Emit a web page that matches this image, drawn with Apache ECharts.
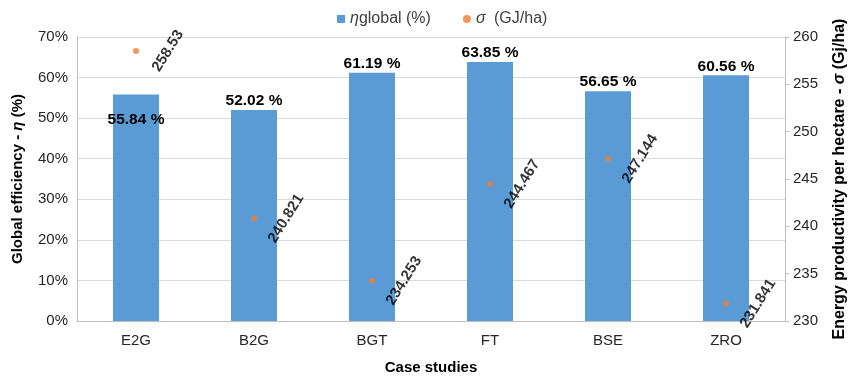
<!DOCTYPE html>
<html>
<head>
<meta charset="utf-8">
<script src="https://cdn.jsdelivr.net/npm/echarts@6/dist/echarts.min.js"></script>
<style>
html,body{margin:0;padding:0;background:#fff;}
#chart{width:851px;height:376px;}
</style>
</head>
<body>
<div id="chart"></div>
<script>
// Case studies and their values
const categories = ['E2G', 'B2G', 'BGT', 'FT', 'BSE', 'ZRO'];
const efficiency = [55.84, 52.02, 61.19, 63.85, 56.65, 60.56];        // global efficiency, %
const productivity = [258.53, 240.821, 234.253, 244.467, 247.144, 231.841]; // GJ/ha
const productivityText = ['258.53', '240.821', '234.253', '244.467', '247.144', '231.841'];

const FONT = '"Liberation Sans", Arial, sans-serif';

const chart = echarts.init(document.getElementById('chart'));

const barData = efficiency.map((v, i) => {
  const item = { value: v };
  if (i === 0) {
    // first value label sits inside the bar, below the scatter label
    item.label = { position: 'insideTop', distance: 17 };
  }
  return item;
});

chart.setOption({
  animation: false,
  legend: {
    top: 6,
    left: 332,
    itemGap: 32,
    itemWidth: 8,
    itemHeight: 8,
    textStyle: {
      fontFamily: FONT, fontSize: 16, color: '#404040',
      rich: {
        i: { fontFamily: FONT, fontSize: 16, fontStyle: 'italic', color: '#404040' },
        s: { fontFamily: FONT, fontSize: 16, fontStyle: 'italic', color: '#404040', padding: [0, 4, 0, 0] }
      }
    },
    formatter: name => name === 'eta' ? '{i|η}global (%)' : '{s|σ} (GJ/ha)',
    data: [
      { name: 'eta', icon: 'rect' },
      { name: 'sigma', icon: 'circle', itemStyle: { color: '#ed7d31' } }
    ]
  },
  grid: { left: 77, right: 66, top: 37, bottom: 55, containLabel: false, outerBoundsMode: 'none' },
  xAxis: {
    type: 'category',
    data: categories,
    name: 'Case studies',
    nameLocation: 'middle',
    nameGap: 39,
    nameTextStyle: { fontFamily: FONT, fontSize: 15, fontWeight: 'bold', color: '#000' },
    axisLine: { lineStyle: { color: '#bfbfbf' } },
    axisTick: { show: false },
    axisLabel: { fontFamily: FONT, fontSize: 15, color: '#262626', margin: 12 }
  },
  yAxis: [
    {
      type: 'value',
      min: 0, max: 70, interval: 10,
      name: 'Global efficiency - {i|η} (%)',
      nameLocation: 'middle',
      nameGap: 52,
      nameTextStyle: {
        fontFamily: FONT, fontSize: 15, fontWeight: 'bold', color: '#000',
        rich: { i: { fontFamily: FONT, fontSize: 15, fontWeight: 'bold', fontStyle: 'italic', color: '#000' } }
      },
      axisLine: { show: true, lineStyle: { color: '#bfbfbf' } },
      axisTick: { show: false },
      axisLabel: { fontFamily: FONT, fontSize: 15, color: '#262626', formatter: '{value}%', margin: 9 },
      splitLine: { lineStyle: { color: '#d9d9d9' } }
    },
    {
      type: 'value',
      min: 230, max: 260, interval: 5,
      position: 'right',
      name: 'Energy productivity per hectare - {i|σ} (Gj/ha)',
      nameLocation: 'middle',
      nameGap: 47,
      nameRotate: 90,
      nameTextStyle: {
        fontFamily: FONT, fontSize: 16, fontWeight: 'bold', color: '#000',
        rich: { i: { fontFamily: FONT, fontSize: 16, fontWeight: 'bold', fontStyle: 'italic', color: '#000' } }
      },
      axisLine: { show: true, lineStyle: { color: '#bfbfbf' } },
      axisTick: { show: true, length: 4, inside: false, lineStyle: { color: '#bfbfbf' } },
      axisLabel: { fontFamily: FONT, fontSize: 15, color: '#262626', margin: 8 },
      splitLine: { show: false }
    }
  ],
  series: [
    {
      name: 'eta',
      type: 'bar',
      yAxisIndex: 0,
      data: barData,
      barWidth: '39%',
      itemStyle: { color: '#5b9bd5' },
      label: {
        show: true,
        position: 'top',
        distance: 1,
        fontFamily: FONT, fontSize: 15.5, fontWeight: 'bold', color: '#000',
        formatter: p => p.value.toFixed(2) + ' %'
      },
      z: 2
    },
    {
      name: 'sigma',
      type: 'scatter',
      yAxisIndex: 1,
      data: productivity,
      symbol: 'circle',
      symbolSize: 6,
      itemStyle: { color: '#ed7d31' },
      label: {
        show: true,
        position: 'right',
        distance: 29,
        align: 'center',
        verticalAlign: 'middle',
        rotate: 58,
        fontFamily: FONT, fontSize: 15, fontWeight: 'bold', color: '#000',
        formatter: p => productivityText[p.dataIndex]
      },
      z: 3
    }
  ]
});
</script>
</body>
</html>
